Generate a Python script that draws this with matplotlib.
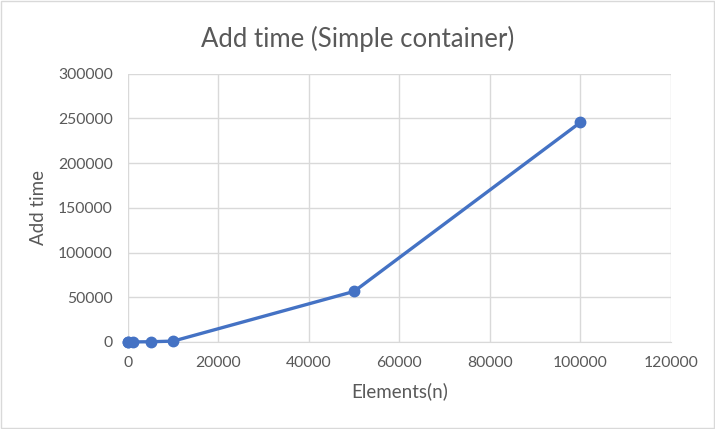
import matplotlib
matplotlib.use('Agg')
import matplotlib.pyplot as plt
from matplotlib.patches import Rectangle

# data
elements = [10, 100, 1000, 5000, 10000, 50000, 100000]
add_time = [0, 0, 0, 200, 900, 56500, 245500]

xticks = [0, 20000, 40000, 60000, 80000, 100000, 120000]
yticks = [0, 50000, 100000, 150000, 200000, 250000, 300000]

plt.rcParams['font.family'] = ['Lato', 'DejaVu Sans']
txt = '#595959'
grid = '#d9d9d9'

fig = plt.figure(figsize=(7.15, 4.29), dpi=100)
ax = fig.add_axes([0.179, 0.203, 0.759, 0.625])

ax.plot(elements, add_time, color='#4472c4', linewidth=2.4, marker='o',
        markersize=7.5, zorder=3, clip_on=False)

ax.set_xlim(0, 120000)
ax.set_ylim(0, 300000)
ax.set_xticks(xticks)
ax.set_yticks(yticks)
ax.set_xticklabels([str(v) for v in xticks])
ax.set_yticklabels([str(v) for v in yticks])
ax.grid(True, color=grid, linewidth=1)
ax.set_axisbelow(True)
for s in ['top', 'right', 'left']:
    ax.spines[s].set_visible(False)
ax.spines['bottom'].set_color(grid)
ax.tick_params(length=0, colors=txt, labelsize=11.3)
ax.tick_params(axis='y', pad=11)
ax.tick_params(axis='x', pad=10)

ax.set_xlabel('Elements(n)', color=txt, fontsize=13.5, labelpad=9)
ax.set_ylabel('Add time', color=txt, fontsize=13.5, labelpad=8)
fig.suptitle('Add time (Simple container)', color=txt, fontsize=18.5, y=0.94)

# outer chart frame
fig.patches.append(Rectangle((0.002, 0.002), 0.996, 0.996, transform=fig.transFigure,
                             fill=False, edgecolor='#d9d9d9', linewidth=1))

fig.savefig('out.png', dpi=100)
